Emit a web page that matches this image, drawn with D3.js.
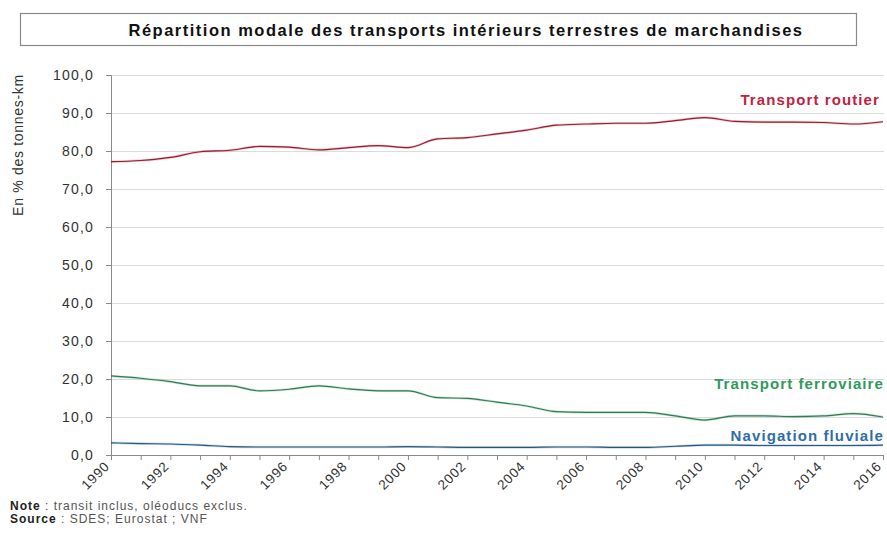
<!DOCTYPE html>
<html><head><meta charset="utf-8">
<script src="https://cdn.jsdelivr.net/npm/d3@7"></script>
<style>body{margin:0;background:#fff}svg{display:block;font-family:"Liberation Sans",Arial,sans-serif}</style>
</head><body>
<svg id="c" width="887" height="534"></svg>
<script>
const years = d3.range(1990, 2017);
const routier = [77.2,77.5,78.3,79.8,80.2,81.2,81.0,80.3,80.9,81.4,80.9,83.2,83.5,84.5,85.5,86.8,87.1,87.3,87.3,88.0,88.8,87.8,87.6,87.6,87.5,87.1,87.7];
const ferroviaire = [20.8,20.2,19.3,18.2,18.2,16.9,17.3,18.2,17.4,16.9,16.9,15.1,14.9,13.9,12.9,11.4,11.2,11.2,11.2,10.3,9.2,10.3,10.3,10.1,10.3,10.9,10.0];
const fluviale = [3.2,3.0,2.9,2.6,2.2,2.1,2.1,2.1,2.1,2.1,2.2,2.1,2.0,2.0,2.0,2.1,2.1,2.0,2.0,2.3,2.6,2.6,2.5,2.5,2.5,2.5,2.6];
const yTicks = [0,10,20,30,40,50,60,70,80,90,100];
const xLabelYears = d3.range(1990, 2017, 2);
const seriesNames = ["Transport routier","Transport ferroviaire","Navigation fluviale"];

const svg = d3.select("#c");
const x = d3.scaleLinear().domain([1990, 2016]).range([111, 883]);
const y = d3.scaleLinear().domain([0, 100]).range([455, 75]);
const fmt = v => d3.format(".1f")(v).replace(".", ",");

// title box
svg.append("rect").attr("x",20.5).attr("y",13.5).attr("width",836).attr("height",32)
  .attr("fill","#fff").attr("stroke","#8a8a8a").attr("stroke-width",1.2);
svg.append("text").attr("x",466).attr("y",36).attr("text-anchor","middle")
  .attr("font-weight","bold").attr("font-size",16.5).attr("fill","#111")
  .attr("letter-spacing",1.5)
  .text("Répartition modale des transports intérieurs terrestres de marchandises");

// gridlines
svg.append("g").selectAll("line").data(yTicks.filter(d=>d>0)).join("line")
  .attr("x1",111).attr("x2",884).attr("y1",d=>y(d)+0.5).attr("y2",d=>y(d)+0.5)
  .attr("stroke","#dcdcdc").attr("stroke-width",1);

// y axis
const ya = svg.append("g").attr("transform","translate(111,0)")
  .call(d3.axisLeft(y).tickValues(yTicks).tickFormat(fmt).tickSize(5).tickPadding(12));
ya.select(".domain").attr("stroke","#8a8a8a");
ya.selectAll(".tick line").attr("stroke","#8a8a8a");
ya.selectAll("text").attr("font-size",14).attr("fill","#333")
  .attr("letter-spacing",1.2).attr("font-family","Liberation Sans, Arial, sans-serif");

// x axis
const xa = svg.append("g").attr("transform","translate(0,455)")
  .call(d3.axisBottom(x).tickValues(years).tickFormat(d => xLabelYears.includes(d) ? String(d) : "").tickSize(5).tickSizeOuter(0));
xa.select(".domain").attr("stroke","#8a8a8a");
xa.selectAll(".tick line").attr("stroke","#8a8a8a");
xa.selectAll("text").attr("font-size",13.5).attr("fill","#333")
  .attr("letter-spacing",0.8)
  .attr("font-family","Liberation Sans, Arial, sans-serif")
  .attr("text-anchor","end").attr("dy",0).attr("y",0)
  .attr("transform","translate(-1,12) rotate(-45)");

// y label
svg.append("text").attr("transform","translate(23,145) rotate(-90)").attr("text-anchor","middle")
  .attr("font-size",14).attr("letter-spacing",0.7).attr("fill","#333").text("En % des tonnes-km");

// lines
const line = d3.line().x((d,i)=>x(years[i])).y(d=>y(d)).curve(d3.curveMonotoneX);
const cols = ["#b8263e","#3a9a6c","#2f6e9e"];
[routier, ferroviaire, fluviale].forEach((s,k)=>{
  svg.append("path").datum(s).attr("d",line).attr("fill","none")
    .attr("stroke",cols[k]).attr("stroke-width",2.5).attr("opacity",0.25);
  svg.append("path").datum(s).attr("d",line).attr("fill","none")
    .attr("stroke",d3.color(cols[k]).darker(0.6)).attr("stroke-width",1.2);
});

// series labels
const labelCols = ["#c0223e","#2e9a5e","#2f6eaa"];
const labelY = [105, 389, 441];
const labelX = [880, 884, 884];
seriesNames.forEach((n,k)=>{
  svg.append("text").attr("x",labelX[k]).attr("y",labelY[k]).attr("text-anchor","end")
    .attr("font-weight","bold").attr("font-size",15).attr("fill",labelCols[k])
    .attr("letter-spacing",1.1).text(n);
});

// notes
const n1 = svg.append("text").attr("x",10).attr("y",510).attr("font-size",12).attr("letter-spacing",1).attr("fill","#222");
n1.append("tspan").attr("font-weight","bold").text("Note");
n1.append("tspan").attr("fill","#555").text(" : transit inclus, oléoducs exclus.");
const n2 = svg.append("text").attr("x",10).attr("y",523).attr("font-size",12).attr("letter-spacing",1).attr("fill","#222");
n2.append("tspan").attr("font-weight","bold").text("Source");
n2.append("tspan").attr("fill","#555").text(" : SDES; Eurostat ; VNF");
</script>
</body></html>
